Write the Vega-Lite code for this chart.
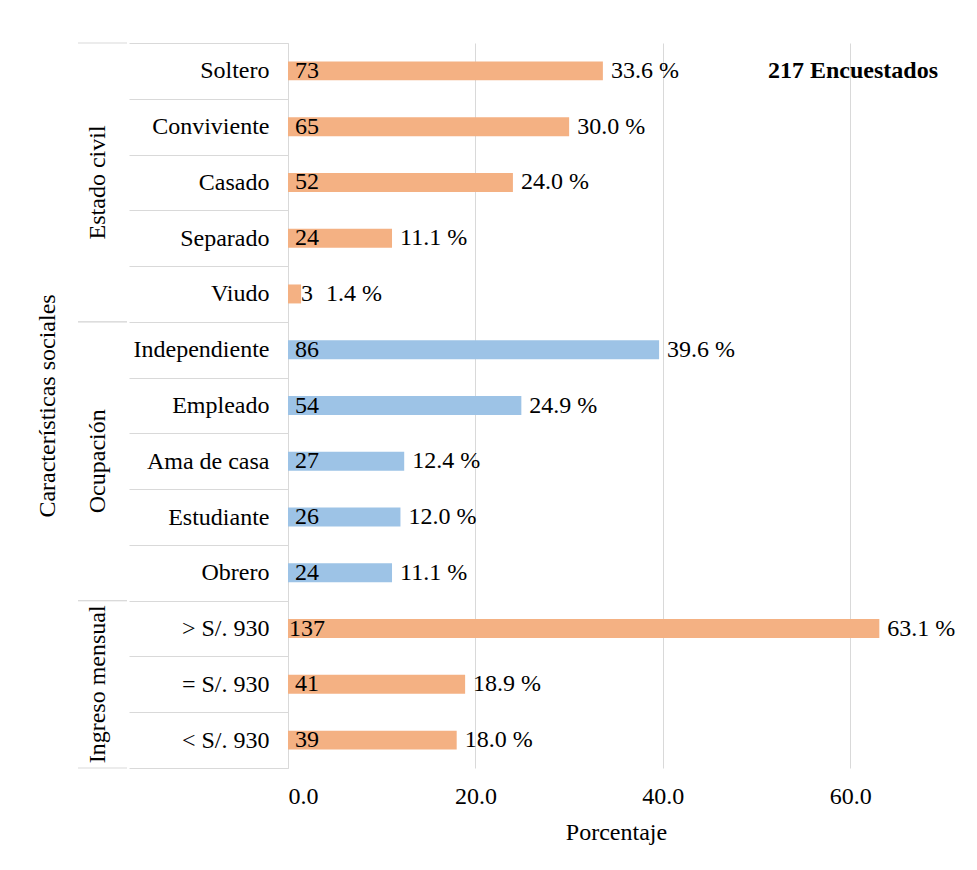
{
  "$schema": "https://vega.github.io/schema/vega-lite/v6.json",
  "background": "white",
  "padding": {"left": 35, "top": 31, "right": 5, "bottom": 5},
  "spacing": 0,
  "config": {
    "view": {"stroke": null},
    "font": "Liberation Serif",
    "text": {"font": "Liberation Serif", "fontSize": 24, "color": "#000000"},
    "axis": {
      "labelFont": "Liberation Serif",
      "titleFont": "Liberation Serif",
      "labelFontSize": 24,
      "titleFontSize": 24,
      "labelColor": "#000000",
      "titleColor": "#000000",
      "titleFontWeight": "normal"
    }
  },
  "data": {
    "values": [
      {"grupo": "Estado civil", "categoria": "Soltero", "n": 73, "pct": 33.6},
      {"grupo": "Estado civil", "categoria": "Conviviente", "n": 65, "pct": 30.0},
      {"grupo": "Estado civil", "categoria": "Casado", "n": 52, "pct": 24.0},
      {"grupo": "Estado civil", "categoria": "Separado", "n": 24, "pct": 11.1},
      {"grupo": "Estado civil", "categoria": "Viudo", "n": 3, "pct": 1.4},
      {"grupo": "Ocupación", "categoria": "Independiente", "n": 86, "pct": 39.6},
      {"grupo": "Ocupación", "categoria": "Empleado", "n": 54, "pct": 24.9},
      {"grupo": "Ocupación", "categoria": "Ama de casa", "n": 27, "pct": 12.4},
      {"grupo": "Ocupación", "categoria": "Estudiante", "n": 26, "pct": 12.0},
      {"grupo": "Ocupación", "categoria": "Obrero", "n": 24, "pct": 11.1},
      {"grupo": "Ingreso mensual", "categoria": "> S/. 930", "n": 137, "pct": 63.1},
      {"grupo": "Ingreso mensual", "categoria": "= S/. 930", "n": 41, "pct": 18.9},
      {"grupo": "Ingreso mensual", "categoria": "< S/. 930", "n": 39, "pct": 18.0}
    ]
  },
  "resolve": {"scale": {"y": "shared"}, "axis": {"y": "independent"}},
  "hconcat": [
    {
      "width": 49,
      "height": 725,
      "transform": [
        {"window": [{"op": "row_number", "as": "orden"}], "groupby": ["grupo"]},
        {"joinaggregate": [{"op": "count", "as": "total"}], "groupby": ["grupo"]}
      ],
      "layer": [
        {
          "transform": [{"filter": "datum.orden == 1"}],
          "mark": {"type": "rule", "color": "#d9d9d9", "strokeWidth": 1},
          "encoding": {
            "y": {
              "field": "categoria", "type": "nominal", "bandPosition": 0,
              "sort": ["Soltero", "Conviviente", "Casado", "Separado", "Viudo", "Independiente", "Empleado", "Ama de casa", "Estudiante", "Obrero", "> S/. 930", "= S/. 930", "< S/. 930"],
              "scale": {"type": "band", "paddingInner": 0, "paddingOuter": 0},
              "axis": {"title": "Características sociales", "labels": false, "ticks": false, "domain": false, "grid": false, "titlePadding": 19}
            }
          }
        },
        {
          "transform": [{"filter": "datum.orden == datum.total"}],
          "mark": {"type": "rule", "color": "#d9d9d9", "strokeWidth": 1},
          "encoding": {
            "y": {
              "field": "categoria", "type": "nominal", "bandPosition": 1,
              "sort": ["Soltero", "Conviviente", "Casado", "Separado", "Viudo", "Independiente", "Empleado", "Ama de casa", "Estudiante", "Obrero", "> S/. 930", "= S/. 930", "< S/. 930"],
              "scale": {"type": "band", "paddingInner": 0, "paddingOuter": 0},
              "axis": {"title": "Características sociales", "labels": false, "ticks": false, "domain": false, "grid": false, "titlePadding": 19}
            }
          }
        },
        {
          "transform": [{"filter": "datum.orden == (datum.total + 1) / 2"}],
          "mark": {"type": "text", "angle": -90, "baseline": "middle", "align": "center", "fontSize": 24, "dy": -5},
          "encoding": {
            "y": {
              "field": "categoria", "type": "nominal",
              "sort": ["Soltero", "Conviviente", "Casado", "Separado", "Viudo", "Independiente", "Empleado", "Ama de casa", "Estudiante", "Obrero", "> S/. 930", "= S/. 930", "< S/. 930"],
              "scale": {"type": "band", "paddingInner": 0, "paddingOuter": 0},
              "axis": {"title": "Características sociales", "labels": false, "ticks": false, "domain": false, "grid": false, "titlePadding": 19}
            },
            "text": {"field": "grupo"}
          }
        }
      ]
    },
    {
      "width": 656,
      "height": 725,
      "encoding": {
        "y": {
          "field": "categoria", "type": "nominal",
          "sort": ["Soltero", "Conviviente", "Casado", "Separado", "Viudo", "Independiente", "Empleado", "Ama de casa", "Estudiante", "Obrero", "> S/. 930", "= S/. 930", "< S/. 930"],
          "scale": {"type": "band", "paddingInner": 0, "paddingOuter": 0},
          "axis": {
            "title": null,
            "grid": false,
            "domainColor": "#d9d9d9",
            "tickBand": "extent",
            "tickSize": 159,
            "tickColor": "#d9d9d9",
            "labelPadding": -140,
            "labelLimit": 300,
            "labelExpr": "datum.value == 'Separado' || datum.value == '= S/. 930' ? datum.value + '\u00a0' : datum.value"
          }
        }
      },
      "layer": [
        {
          "mark": {"type": "bar", "height": {"band": 0.34}},
          "encoding": {
            "x": {
              "field": "pct", "type": "quantitative",
              "scale": {"domain": [0, 70], "nice": false},
              "axis": {
                "title": "Porcentaje",
                "values": [0, 20, 40, 60],
                "format": ".1f",
                "grid": true,
                "gridColor": "#d9d9d9",
                "domain": false,
                "ticks": false,
                "labelPadding": 16,
                "titlePadding": 12
              }
            },
            "color": {
              "field": "grupo", "type": "nominal", "legend": null,
              "scale": {"domain": ["Estado civil", "Ocupación", "Ingreso mensual"], "range": ["#F4B183", "#9DC3E6", "#F4B183"]}
            }
          }
        },
        {
          "mark": {"type": "text", "align": "center", "baseline": "middle", "dx": 19},
          "encoding": {
            "x": {"datum": 0, "type": "quantitative"},
            "text": {"field": "n", "type": "quantitative"}
          }
        },
        {
          "mark": {
            "type": "text", "align": "left", "baseline": "middle",
            "dx": {"expr": "datum.pct < 5 ? 25 : 8"},
            "text": {"expr": "format(datum.pct, '.1f') + ' %'"}
          },
          "encoding": {
            "x": {"field": "pct", "type": "quantitative"}
          }
        },
        {
          "data": {"values": [{"nota": "217 Encuestados"}]},
          "mark": {"type": "text", "align": "right", "baseline": "middle", "fontWeight": "bold", "dx": -6},
          "encoding": {
            "x": {"datum": 70, "type": "quantitative"},
            "y": {"datum": "Soltero", "type": "nominal"},
            "text": {"field": "nota"}
          }
        }
      ]
    }
  ]
}
